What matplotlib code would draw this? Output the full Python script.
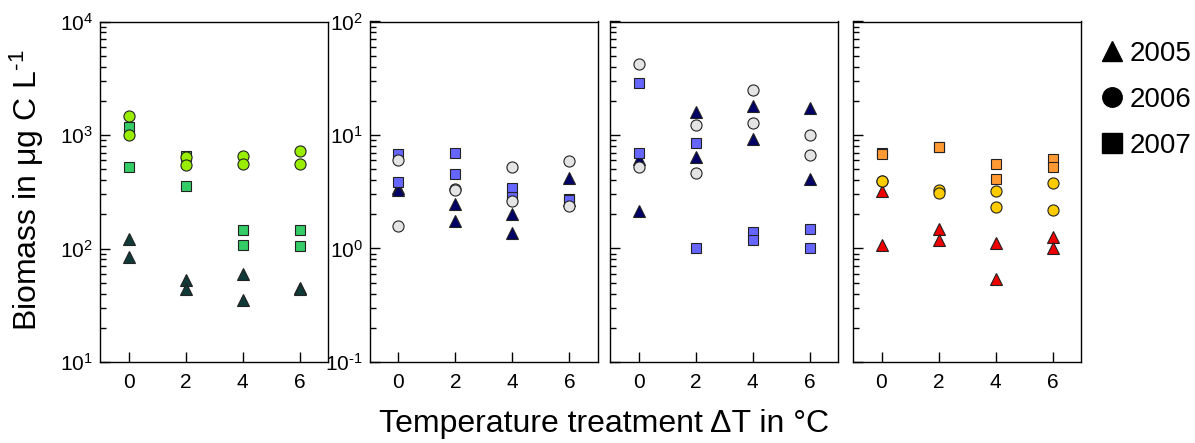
import math
import matplotlib
matplotlib.use('Agg')
import matplotlib.pyplot as plt
from matplotlib.lines import Line2D
from matplotlib.ticker import LogLocator, NullFormatter, FuncFormatter

plt.rcParams['font.family'] = ['Liberation Sans', 'DejaVu Sans']
plt.rcParams['mathtext.fontset'] = 'custom'
plt.rcParams['mathtext.rm'] = 'Liberation Sans'
plt.rcParams['mathtext.it'] = 'Liberation Sans:italic'
plt.rcParams['mathtext.default'] = 'regular'
plt.rcParams['axes.unicode_minus'] = False

dT = [0, 0, 2, 2, 4, 4, 6, 6]

# panel 1
p1_2005 = [121, 84, 53, 44, 60, 35, 45, 44]
p1_2006 = [1480, 1010, 644, 544, 653, 555, 723, 555]
p1_2007 = [1180, 518, 650, 357, 147, 107, 145, 106]
# panel 2
p2_2005 = [3.43, 3.3, 2.49, 1.75, 2.03, 1.36, 4.2, 2.7]
p2_2006 = [6.0, 1.59, 3.31, 3.25, 5.25, 2.63, 5.9, 2.38]
p2_2007 = [6.8, 3.87, 6.9, 4.53, 3.39, 2.86, 2.72, 2.65]
# panel 3
p3_2005 = [6.2, 2.15, 15.8, 6.36, 18.1, 9.2, 17.3, 4.09]
p3_2006 = [42.3, 5.19, 12.2, 4.59, 24.9, 12.8, 10.0, 6.7]
p3_2007 = [28.6, 6.93, 8.5, 1.0, 1.41, 1.18, 1.48, 1.02]
# panel 4
p4_2005 = [3.23, 1.07, 1.5, 1.19, 1.11, 0.54, 1.27, 1.02]
p4_2006 = [3.96, 3.9, 3.27, 3.06, 3.21, 2.33, 3.75, 2.18]
p4_2007 = [6.9, 6.85, 7.9, 7.85, 5.55, 4.09, 6.1, 5.25]

panels = [
    (p1_2005, p1_2006, p1_2007, ('#0f3a38', '#99ee00', '#33cc66'), (10, 1e4)),
    (p2_2005, p2_2006, p2_2007, ('#000066', '#e4e4e4', '#6666ff'), (0.1, 100)),
    (p3_2005, p3_2006, p3_2007, ('#000066', '#e4e4e4', '#6666ff'), (0.1, 100)),
    (p4_2005, p4_2006, p4_2007, ('#ee0000', '#ffcc00', '#ff9933'), (0.1, 100)),
]


def decade_label(v, pos):
    # plain hyphen in the exponent instead of a math minus
    return r'$10^{\text{%d}}$' % round(math.log10(v))


W, H = 1195, 443
fig = plt.figure(figsize=(W / 100, H / 100), dpi=100)
lefts = [100, 370, 610, 853]
for i, (y05, y06, y07, cols, ylim) in enumerate(panels):
    ax = fig.add_axes([lefts[i] / W, 1 - 362 / H, 228 / W, 340.5 / H])
    ax.plot(dT, y05, '^', ms=8.5, mfc=cols[0], mec='#222222', mew=0.8, zorder=3)
    ax.plot(dT, y07, 's', ms=7.8, mfc=cols[2], mec='#222222', mew=0.8, zorder=4)
    ax.plot(dT, y06, 'o', ms=8.0, mfc=cols[1], mec='#222222', mew=0.8, zorder=5)
    ax.set_yscale('log')
    ax.set_ylim(*ylim)
    ax.set_xlim(-1, 7)
    ax.set_xticks([0, 2, 4, 6])
    ax.yaxis.set_major_locator(LogLocator(base=10, numticks=10))
    ax.yaxis.set_major_formatter(FuncFormatter(decade_label))
    ax.yaxis.set_minor_locator(LogLocator(base=10, subs=range(2, 10), numticks=20))
    ax.yaxis.set_minor_formatter(NullFormatter())
    ax.tick_params(axis='both', which='both', direction='in', width=1,
                   top=False, right=False)
    ax.tick_params(axis='both', which='major', length=7, labelsize=15)
    ax.tick_params(axis='y', which='minor', length=4.5)
    ax.tick_params(axis='x', pad=8)
    ax.tick_params(axis='y', pad=5)
    if i >= 2:
        ax.tick_params(axis='y', labelleft=False)
    for sp in ax.spines.values():
        sp.set_linewidth(1)

fig.text(27 / W, 0.57, r'Biomass in μg C L$^{\text{-}1}$', rotation=90,
         ha='center', va='center', fontsize=23)
fig.text(604 / W, 1 - 424 / H, 'Temperature treatment ΔT in °C',
         ha='center', va='center', fontsize=23)

handles = [Line2D([], [], marker=m, ls='none', color='black', ms=s)
           for m, s in [('^', 15), ('o', 14), ('s', 14)]]
fig.legend(handles, ['2005', '2006', '2007'], loc='upper left',
           bbox_to_anchor=(1088 / W, 1 - 30 / H), frameon=False, fontsize=20,
           handlelength=0.9, handletextpad=0.2, labelspacing=0.72, borderaxespad=0)

fig.savefig('out.png', dpi=100)
